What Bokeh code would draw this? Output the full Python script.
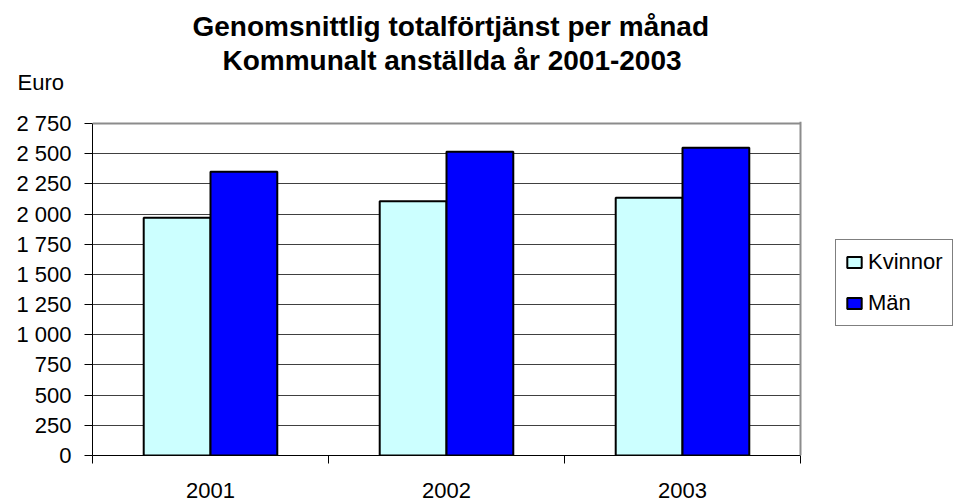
from bokeh.plotting import figure
from bokeh.models import (Range1d, FixedTicker, Legend, LegendItem, Title,
                          BoxAnnotation, Span)
from bokeh.embed import file_html
from bokeh.resources import INLINE

years = ["2001", "2002", "2003"]
kvinnor = [1970, 2105, 2135]
man = [2350, 2515, 2550]
y_ticks = list(range(0, 2751, 250))
title_lines = ["Genomsnittlig totalförtjänst per månad", "Kommunalt anställda år 2001-2003"]
y_unit = "Euro"

FONT = "Liberation Sans"
W, H = 955, 502
LEFT, CHART_RIGHT, TOP, BOTTOM = 92, 800, 123, 455
PAD_TOP = 2  # small headroom so the top border line is not clipped
n = len(years)
y_max = y_ticks[-1]
# frame reaches the right edge so the legend can sit inside it
x_end = n * (W - LEFT) / (CHART_RIGHT - LEFT)
y_end = y_max * (BOTTOM - TOP + PAD_TOP) / (BOTTOM - TOP)

p = figure(width=W, height=H, output_backend="svg", toolbar_location=None,
           x_range=Range1d(0, x_end), y_range=Range1d(0, y_end), title_location=None,
           min_border_left=LEFT, min_border_right=0, min_border_top=TOP - PAD_TOP,
           min_border_bottom=H - BOTTOM)
p.background_fill_color = "white"
p.border_fill_color = "white"
p.outline_line_color = None

centers = [i + 0.5 for i in range(n)]
bw = 0.283
rk = p.vbar(x=[c - bw / 2 for c in centers], top=kvinnor, width=bw,
            fill_color="#CCFFFF", line_color="black", line_width=2)
rm = p.vbar(x=[c + bw / 2 for c in centers], top=man, width=bw,
            fill_color="#0000FF", line_color="black", line_width=2)

# y axis
p.yaxis.ticker = FixedTicker(ticks=y_ticks)
p.yaxis.bounds = (0, y_max)
p.yaxis.major_label_overrides = {v: f"{v:,}".replace(",", " ") for v in y_ticks}
p.yaxis.major_label_text_font = FONT
p.yaxis.major_label_text_font_size = "22px"
p.yaxis.major_label_text_color = "black"
p.yaxis.major_tick_out = 8
p.yaxis.major_tick_in = 0
p.yaxis.minor_tick_line_color = None
p.yaxis.axis_line_color = "black"
p.yaxis.major_tick_line_color = "black"
p.yaxis.major_label_standoff = 13

# x axis: labels at category centres, ticks at category boundaries
p.xaxis.ticker = FixedTicker(ticks=centers, minor_ticks=list(range(n + 1)))
p.xaxis.bounds = (0, n)
p.xaxis.major_label_overrides = {c: y for c, y in zip(centers, years)}
p.xaxis.major_label_text_font = FONT
p.xaxis.major_label_text_font_size = "22px"
p.xaxis.major_label_text_color = "black"
p.xaxis.major_tick_line_color = None
p.xaxis.major_tick_out = 0
p.xaxis.major_tick_in = 0
p.xaxis.minor_tick_out = 8
p.xaxis.minor_tick_in = 0
p.xaxis.minor_tick_line_color = "black"
p.xaxis.axis_line_color = "black"
p.xaxis.major_label_standoff = 19

p.xgrid.grid_line_color = None
p.ygrid.ticker = FixedTicker(ticks=y_ticks[1:-1])
p.ygrid.grid_line_color = "#404040"
p.ygrid.grid_line_width = 1

# chart border (top, right) and blank area to the right of the chart
p.add_layout(Span(location=y_max, dimension="width", line_color="#8c8c8c", line_width=2))
p.add_layout(BoxAnnotation(left=n, fill_color="white", fill_alpha=1, line_color=None))
p.add_layout(Span(location=n, dimension="height", line_color="#8c8c8c", line_width=2))

# titles in the top panel (first added = closest to the frame)
p.add_layout(Title(text=" ", standoff=7, text_font=FONT, text_font_size="22px"), "above")
p.add_layout(Title(text=y_unit, align="left", offset=-75, standoff=-14,
                   text_font=FONT, text_font_size="22px", text_font_style="normal",
                   text_color="black"), "above")
p.add_layout(Title(text=title_lines[1], align="left", offset=130, standoff=-3,
                   text_font=FONT, text_font_size="28px", text_font_style="bold",
                   text_color="black"), "above")
p.add_layout(Title(text=title_lines[0], align="left", offset=100, standoff=6,
                   text_font=FONT, text_font_size="28px", text_font_style="bold",
                   text_color="black"), "above")

legend = Legend(items=[LegendItem(label="Kvinnor", renderers=[rk]),
                       LegendItem(label="Män", renderers=[rm])],
                location=(743, 129))
legend.label_text_font = FONT
legend.label_text_font_size = "22px"
legend.label_text_color = "black"
legend.border_line_color = "black"
legend.border_line_width = 1
legend.background_fill_color = "white"
legend.background_fill_alpha = 1
legend.glyph_width = 18
legend.glyph_height = 14
legend.label_standoff = 5
legend.padding = 9
legend.spacing = 15
legend.margin = 0
p.add_layout(legend, "center")

open("out.html", "w").write(file_html(p, INLINE))
